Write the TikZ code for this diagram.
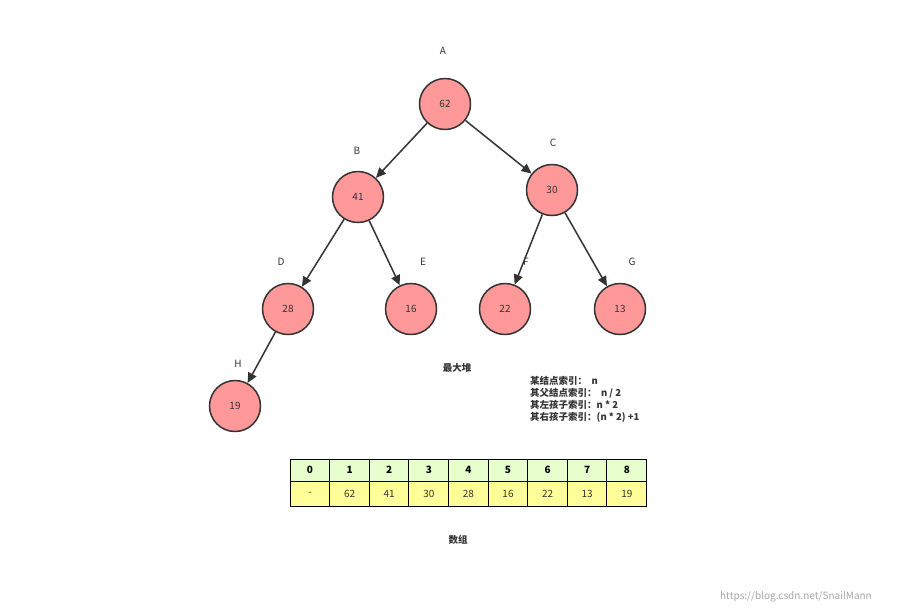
\documentclass[tikz,border=0pt]{standalone}
\usepackage{fontspec}
\setmainfont{Noto Sans CJK SC}
\usetikzlibrary{arrows.meta}
\definecolor{nodefill}{HTML}{FF9999}
\definecolor{edge}{HTML}{333333}
\definecolor{hdr}{HTML}{E6FFCC}
\definecolor{row}{HTML}{FFFF99}
\begin{document}
\begin{tikzpicture}[x=1pt,y=-1pt,
  hnode/.style={circle,draw=edge,fill=nodefill,line width=1.5pt,minimum size=51pt,inner sep=0pt,font=\fontsize{10}{12}\selectfont,text=edge},
  lbl/.style={font=\fontsize{10}{12}\selectfont,text=edge},
  conn/.style={draw=edge,line width=1.5pt,-{Triangle[length=10pt,width=9pt]}},
  cellh/.style={draw=black,fill=hdr,minimum width=40pt,minimum height=22pt,inner sep=0pt,line width=1pt,font=\bfseries\fontsize{10}{12}\selectfont},
  cellv/.style={draw=black,fill=row,minimum width=40pt,minimum height=25pt,inner sep=0pt,line width=1pt,font=\fontsize{10}{12}\selectfont,text=edge},
  bold/.style={font=\bfseries\fontsize{9.5}{12}\selectfont,text=edge}]
\useasboundingbox (0,0) rectangle (921,614);
\node[hnode] (A) at (445,104) {62};
\node[hnode] (B) at (358,197) {41};
\node[hnode] (C) at (552,190) {30};
\node[hnode] (D) at (288,309) {28};
\node[hnode] (E) at (411,309) {16};
\node[hnode] (F) at (505,309) {22};
\node[hnode] (G) at (620,309) {13};
\node[hnode] (H) at (235,406) {19};
\node[lbl] (lA) at (443,51) {A};
\node[lbl] (lB) at (357,151) {B};
\node[lbl] (lC) at (553,143) {C};
\node[lbl] (lD) at (281,262) {D};
\node[lbl] (lE) at (423,262) {E};
\node[lbl] (lF) at (526,262) {F};
\node[lbl] (lG) at (632,262) {G};
\node[lbl] (lH) at (238,364) {H};
\draw[conn] (A) -- (B);
\draw[conn] (A) -- (C);
\draw[conn] (B) -- (D);
\draw[conn] (B) -- (E);
\draw[conn] (C) -- (F);
\draw[conn] (C) -- (G);
\draw[conn] (D) -- (H);
\node[bold] (title) at (457,368) {最大堆};
\node[bold,anchor=north west,align=left,inner sep=0pt] (info) at (530,376) {某结点索引：\ \ n\\其父结点索引：\ \ n / 2\\其左孩子索引：n * 2\\其右孩子索引：(n * 2) +1};
\foreach \i/\v [count=\k from 0] in {0/-,1/62,2/41,3/30,4/28,5/16,6/22,7/13,8/19}{
  \node[cellh] (h\k) at (310+\k*39.6,470) {\i};
  \node[cellv] (v\k) at (310+\k*39.6,493.5) {\v};
}
\node[bold] (arr) at (458,540) {数组};
\node[font=\fontsize{10}{12}\selectfont,text=black!35] (wm) at (796,597) {https://blog.csdn.net/SnailMann};
\end{tikzpicture}
\end{document}
